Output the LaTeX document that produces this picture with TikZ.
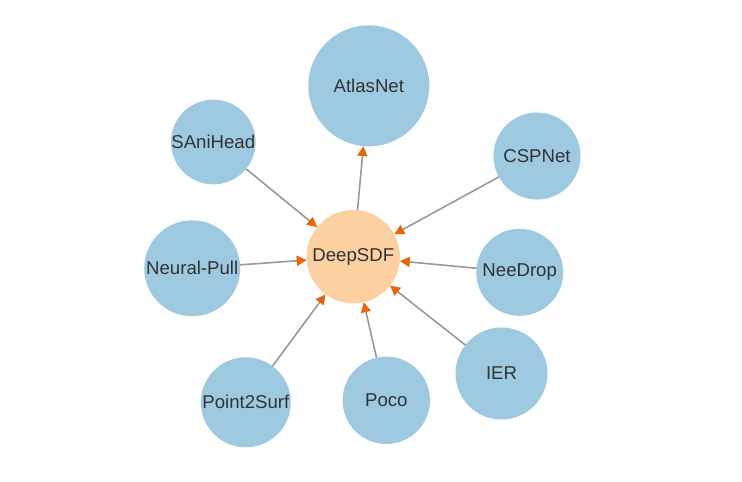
\documentclass[tikz,border=0pt]{standalone}
\usepackage{fontspec}
\setmainfont{Liberation Sans}
\usetikzlibrary{arrows.meta}
\definecolor{nodeblue}{HTML}{9ECAE1}
\definecolor{nodeorange}{HTML}{FDD0A2}
\definecolor{arrowor}{HTML}{E6650D}
\definecolor{edgegray}{HTML}{999999}
\definecolor{txt}{HTML}{333333}
\begin{document}
\begin{tikzpicture}[x=1pt,y=-1pt,
  bubble/.style={circle,fill=nodeblue,draw=none,inner sep=0pt,outer sep=0pt,text=txt,font=\fontsize{18.6}{22}\selectfont},
  center/.style={bubble,fill=nodeorange},
  edge/.style={draw=edgegray,line width=1.6pt,-{Triangle[length=10pt,width=10pt,color=arrowor]}}]
\useasboundingbox (0,0) rectangle (742,482);
\node[center,minimum size=93.4pt] (deep) at (353.3,256.7) {DeepSDF};
\node[bubble,minimum size=121pt] (atlas) at (368.8,85.8) {AtlasNet};
\node[bubble,minimum size=82pt] (sani) at (213.3,142) {SAniHead};
\node[bubble,minimum size=87pt] (csp) at (537,156) {CSPNet};
\node[bubble,minimum size=96pt] (np) at (192.2,268.3) {Neural-Pull};
\node[bubble,minimum size=87pt] (nee) at (519.7,272.3) {NeeDrop};
\node[bubble,minimum size=92pt] (ier) at (501.5,373.5) {IER};
\node[bubble,minimum size=87.4pt] (poco) at (386.3,400.3) {Poco};
\node[bubble,minimum size=90pt] (p2s) at (245.8,402.3) {Point2Surf};
\draw[edge] (deep) -- (atlas);
\draw[edge] (sani) -- (deep);
\draw[edge] (csp) -- (deep);
\draw[edge] (np) -- (deep);
\draw[edge] (nee) -- (deep);
\draw[edge] (ier) -- (deep);
\draw[edge] (poco) -- (deep);
\draw[edge] (p2s) -- (deep);
\end{tikzpicture}
\end{document}
